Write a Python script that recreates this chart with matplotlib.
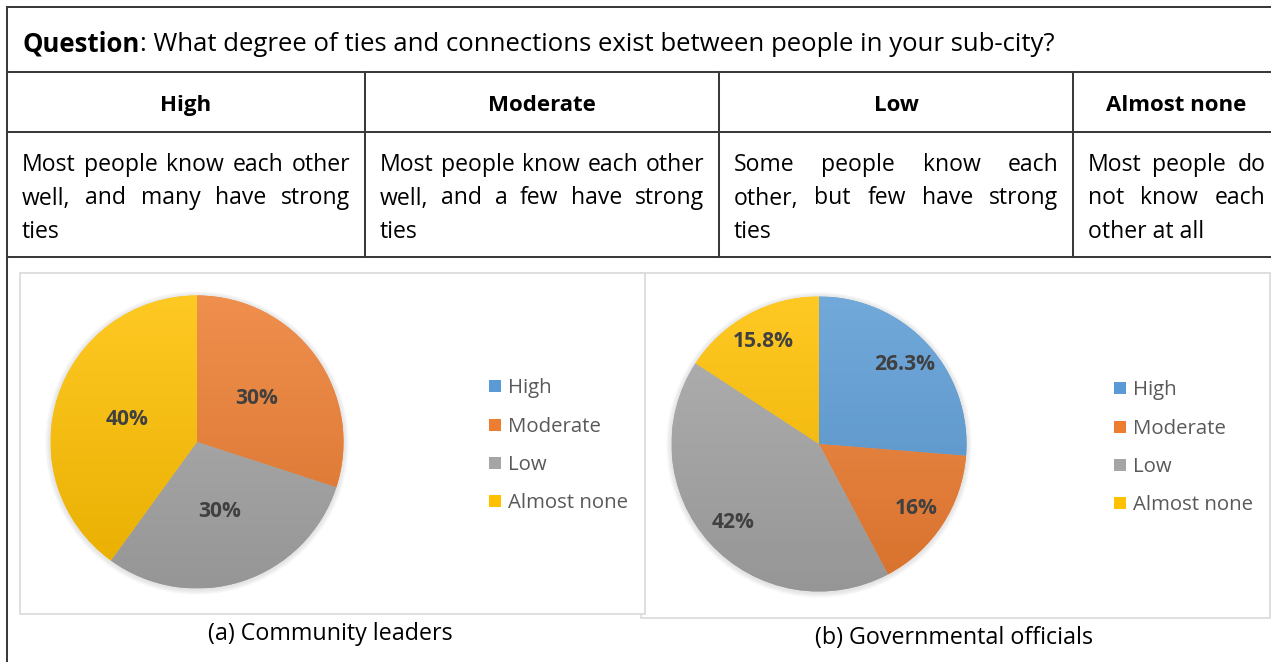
import numpy as np
import matplotlib
matplotlib.use("Agg")
import matplotlib.pyplot as plt
from matplotlib.patches import Rectangle, Circle
from matplotlib.font_manager import FontProperties
from matplotlib.colors import to_rgb

# ---------------- data ----------------
categories = ["High", "Moderate", "Low", "Almost none"]
colors = ["#5B9BD5", "#ED7D31", "#A5A5A5", "#FFC000"]
leaders_pct = [0, 30, 30, 40]          # (a) community leaders
officials_pct = [26.3, 16, 42, 15.8]   # (b) governmental officials

question_label = "Question"
question_text = ": What degree of ties and connections exist between people in your sub-city?"
level_headers = ["High", "Moderate", "Low", "Almost none"]
level_descriptions = [
    ["Most people know each other", "well, and many have strong", "ties"],
    ["Most people know each other", "well, and a few have strong", "ties"],
    ["Some people know each", "other, but few have strong", "ties"],
    ["Most people do", "not know each", "other at all"],
]
captions = ["(a) Community leaders", "(b) Governmental officials"]

# ---------------- canvas ----------------
W, H = 1271, 662
DPI = 100
FONT = "Open Sans"

fig = plt.figure(figsize=(W / DPI, H / DPI), dpi=DPI)
fig.patch.set_facecolor("white")
cv = fig.add_axes([0, 0, 1, 1])
cv.set_xlim(0, W)
cv.set_ylim(H, 0)
cv.set_axis_off()
renderer = fig.canvas.get_renderer()


def text_width(s, size, weight="normal"):
    fp = FontProperties(family=FONT, size=size, weight=weight)
    w, _, _ = renderer.get_text_width_height_descent(s, fp, ismath=False)
    return w


def fit_size(s, target, weight="normal"):
    return 20.0 * target / text_width(s, 20.0, weight)


# font sizes fitted to the pixel widths of a few strings
question_size = 20.0 * 1030 / (text_width(question_label, 20.0, "bold")
                               + text_width(question_text, 20.0))
header_size = fit_size("Almost none", 140, "bold")
body_size = fit_size("other at all", 116)
caption_size = fit_size(captions[0], 244)
legend_size = fit_size("Almost none", 120)
label_size = fit_size("26.3%", 61, "bold")

# ---------------- table ----------------
LINE = "#3A3A3A"
LW = 1.45
X0, X1 = 7, 1280
row_y = [7, 72, 132, 257]
col_x = [7, 365, 719, 1073, 1280]
PAD = 14.5

for y in row_y:
    cv.plot([X0, X1], [y, y], color=LINE, lw=LW, solid_capstyle="projecting", zorder=5)
cv.plot([X0, X0], [7, H + 5], color=LINE, lw=LW, solid_capstyle="projecting", zorder=5)
cv.plot([X1, X1], [7, H + 5], color=LINE, lw=LW, zorder=5)
for x in col_x[1:-1]:
    cv.plot([x, x], [72, 257], color=LINE, lw=LW, zorder=5)

# question line: bold label followed by regular text
qx, qy = 23, 51
cv.text(qx, qy, question_label, family=FONT, size=question_size, weight="bold",
        ha="left", va="baseline", color="black")
cv.text(qx + text_width(question_label, question_size, "bold"), qy, question_text,
        family=FONT, size=question_size, ha="left", va="baseline", color="black")

# header row
for i, h in enumerate(level_headers):
    cx = 0.5 * (col_x[i] + col_x[i + 1])
    cv.text(cx, 111, h, family=FONT, size=header_size, weight="bold",
            ha="center", va="baseline", color="black")

# justified description paragraphs
desc_base = [171, 204.5, 238]


def draw_justified(lines, xa, xb, size):
    for k, line in enumerate(lines):
        y = desc_base[k]
        words = line.split()
        if k == len(lines) - 1 or len(words) == 1:
            cv.text(xa, y, line, family=FONT, size=size, ha="left",
                    va="baseline", color="black")
            continue
        widths = [text_width(w, size) for w in words]
        gap = (xb - xa - sum(widths)) / (len(words) - 1)
        x = xa
        for w, wd in zip(words, widths):
            cv.text(x, y, w, family=FONT, size=size, ha="left",
                    va="baseline", color="black")
            x += wd + gap


for i, lines in enumerate(level_descriptions):
    draw_justified(lines, col_x[i] + PAD, col_x[i + 1] - PAD, body_size)

# ---------------- chart frames ----------------
FRAME = "#D9D9D9"
cv.add_patch(Rectangle((641, 273), 1270 - 641, 618 - 273, fc="white",
                       ec=FRAME, lw=1.2, zorder=1))
cv.add_patch(Rectangle((20, 273), 645 - 20, 614 - 273, fc="white",
                       ec=FRAME, lw=1.2, zorder=2))

# captions
cv.text(330, 640, captions[0], family=FONT, size=caption_size, ha="center",
        va="baseline", color="black")
cv.text(954, 644, captions[1], family=FONT, size=caption_size, ha="center",
        va="baseline", color="black")

# ---------------- pies ----------------
M = 1.1
grad = np.linspace(0.0, 1.0, 256)[:, None, None]


def draw_pie(values, cx, cy, r, label_dist):
    ax = fig.add_axes([(cx - r * M) / W, 1 - (cy + r * M) / H,
                       2 * r * M / W, 2 * r * M / H])
    ax.set_axis_off()
    # soft shadow halo
    for k in range(6):
        ax.add_patch(Circle((0.0, -0.006), 1.0 + 0.006 * (k + 1), color="#7F7F7F",
                            alpha=0.035, lw=0, zorder=0))
    wedges, _ = ax.pie(values, colors=colors, startangle=90, counterclock=False,
                       radius=1.0, wedgeprops=dict(linewidth=0))
    for wedge, col, v in zip(wedges, colors, values):
        if v <= 0:
            continue
        base = np.array(to_rgb(col))
        top = base + (1 - base) * 0.14
        bot = base * 0.91
        img = top[None, None, :] * (1 - grad) + bot[None, None, :] * grad
        im = ax.imshow(img, extent=(-1, 1, -1, 1), origin="upper",
                       aspect="auto", interpolation="bilinear", zorder=2)
        im.set_clip_path(wedge)
        mid = np.deg2rad(0.5 * (wedge.theta1 + wedge.theta2))
        ax.text(label_dist * np.cos(mid), label_dist * np.sin(mid), f"{v:g}%",
                family=FONT, size=label_size, weight="bold", color="#404040",
                ha="center", va="center", zorder=5)
    ax.set_xlim(-M, M)
    ax.set_ylim(-M, M)
    ax.set_aspect("equal")
    return ax


draw_pie(leaders_pct, 197, 442, 146.5, 0.5)
draw_pie(officials_pct, 819, 444, 147.5, 0.79)

# ---------------- legends ----------------
SQ = 12


def draw_legend(mx, tx, baselines):
    for col, name, yb in zip(colors, categories, baselines):
        yc = yb - 6.8
        cv.add_patch(Rectangle((mx, yc - SQ / 2), SQ, SQ, fc=col, ec="none", zorder=6))
        cv.text(tx, yb, name, family=FONT, size=legend_size, color="#595959",
                ha="left", va="baseline", zorder=6)


draw_legend(488.5, 508, [393, 431.5, 469.5, 507.5])
draw_legend(1114, 1133, [395, 433.5, 472, 510])

fig.savefig("out.png", dpi=DPI, facecolor="white")
